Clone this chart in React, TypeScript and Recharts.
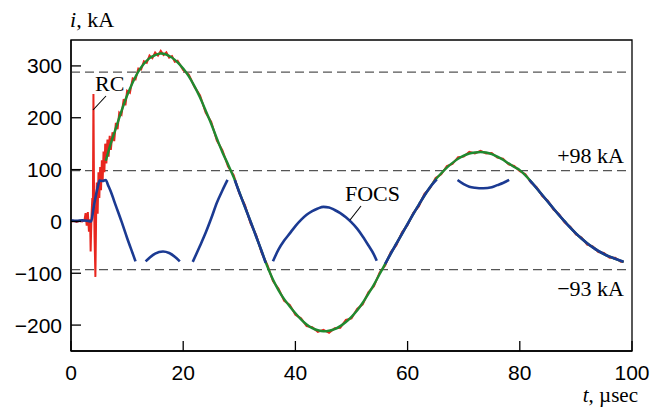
import { LineChart, Line, XAxis, YAxis, ReferenceLine, ReferenceArea } from 'recharts';

// smooth reconstructed current (green)
const greenTime = [
  6.2, 7, 8, 9, 10, 11, 12, 13, 14, 15, 16, 17, 18, 19, 20, 21, 22, 23, 24, 25, 26, 27, 28, 29, 30,
  31, 32, 33, 34, 35, 36, 37, 38, 39, 40, 41, 42, 43, 44, 45, 46, 47, 48, 49, 50, 51, 52, 53, 54, 55,
  56, 57, 58, 59, 60, 61, 62, 63, 64, 65, 66, 67, 68, 69, 70, 71, 72, 73, 74, 75, 76, 77, 78, 79, 80,
  81, 82, 83, 84, 85, 86, 87, 88, 89, 90, 91, 92, 93, 94, 95, 96, 97, 98, 98.5,
];
const greenCurrent = [
  117, 147, 180, 213, 243, 268, 289, 304, 315, 321, 324, 322, 316, 307, 295, 280, 261, 239, 214, 188, 160, 133, 110, 85, 57,
  28, 0, -29, -58, -87, -112, -133, -150, -164, -177, -189, -199, -206, -210, -212, -211, -208, -202, -194, -184, -172, -157, -140, -122, -102,
  -82, -62, -43, -24, -5, 14, 32, 50, 66, 81, 93, 104, 113, 121, 127, 131, 133, 134, 133, 130, 125, 119, 112, 105, 99,
  89, 77, 64, 51, 38, 25, 12, 0, -12, -23, -33, -42, -50, -57, -63, -68, -72, -76, -78,
];

// RC (Rogowski coil) record, noisy (red)
const redTime = [
  0, 0.5, 1, 1.5, 2, 2.4, 2.6, 2.8, 3.0, 3.2, 3.4, 3.5, 3.65, 3.8, 3.9, 4.0, 4.1, 4.2, 4.35, 4.5, 4.6, 4.75,
  4.9, 5.05, 5.2, 5.35, 5.5, 5.65, 5.8, 5.95, 6.1, 6.3, 6.5, 6.7, 6.9, 7.1, 7.4, 7.7, 8.0, 8.3, 8.6, 9.0,
  9.4, 9.7, 10, 10.5, 11, 11.5, 12, 12.5, 13, 13.5, 14, 14.5, 15, 15.5, 16, 16.5, 17, 17.5, 18, 18.5, 19,
  20, 21, 22, 23, 24, 25, 26, 27, 28, 29, 30, 31, 32, 33, 34, 35, 36, 37, 38, 39, 40, 41, 42, 43, 44, 45,
  46, 47, 48, 49, 50, 51, 52, 53, 54, 55, 56, 57, 58, 59, 60, 61, 62, 63, 64, 65, 66, 67, 68, 69, 70, 71,
  72, 73, 74, 75, 76, 77, 78, 79, 80, 81, 82, 83, 84, 85, 86, 87, 88, 89, 90, 91, 92, 93, 94, 95, 96, 97,
  98, 98.5,
];
const redCurrent = [
  0, 1, -1, 1, 0, 2, 16, -8, 18, -20, 4, -58, 10, 45, 25, 246, 60, -30, -107, 30, 75, 15,
  95, 45, 105, 60, 118, 80, 135, 95, 150, 112, 158, 125, 165, 138, 172, 155, 190, 178, 210, 206,
  236, 224, 252, 248, 276, 274, 295, 293, 309, 306, 320, 315, 326, 320, 329, 321, 326, 316, 319, 308, 310,
  292, 283, 260, 243, 210, 192, 156, 137, 106, 89, 54, 32, -4, -26, -61, -84, -115, -130, -153, -161, -180, -187, -202, -204, -213, -209,
  -215, -206, -205, -190, -187, -169, -160, -137, -125, -99, -85, -59, -46, -21, -7, 16, 29, 53, 64, 84, 91, 107, 111, 124, 125, 134,
  131, 136, 131, 132, 123, 121, 110, 107, 97, 91, 75, 66, 49, 40, 23, 14, -2, -10, -25, -31, -45, -48, -59, -61, -70, -70,
  -78, -78,
];

// FOCS record, folded outside its range (blue); null = gap
const blueTime = [
  0, 1, 2, 3, 3.6, 4.0, 4.4, 4.8, 5.1, 5.6, 6.2, 6.6, 7, 8, 9, 10, 11, 11.5, 12.4,
  13.3, 14, 15, 16.4, 17.5, 18.5, 19.4, 20.5,
  21.7, 23, 24, 25, 26, 27, 27.9, 28.5,
  29.2, 30, 31, 32, 33, 34, 34.7, 35.3,
  36, 37, 38, 39, 40, 41, 42, 43, 44, 45, 46, 47, 48, 49, 50, 51, 52, 53, 54, 54.5, 55.2,
  56, 57, 58, 59, 60, 61, 62, 63, 64, 65.2, 67,
  68.9, 70, 71, 72, 73.5, 75, 76, 77, 78.1, 80,
  81.7, 83, 84, 85, 86, 87, 88, 89, 90, 91, 92, 93, 94, 95, 96, 97, 98, 98.5,
];
const blueCurrent = [
  2, 1, 2, 1, 0, 25, 48, 68, 79, 78, 80, 70, 60, 30, 0, -32, -62, -77, null,
  -77, -70, -62, -58, -61, -68, -77, null,
  -78, -47, -22, 6, 36, 60, 80, null,
  80, 56, 28, 0, -29, -58, -80, null,
  -77, -54, -37, -23, -9, 3, 13, 20, 25, 28, 27, 22, 16, 8, -2, -14, -29, -46, -64, -76, null,
  -82, -62, -43, -24, -5, 14, 32, 50, 66, 81, null,
  80, 72, 67, 65, 64, 66, 70, 74, 80, null,
  80, 64, 51, 38, 25, 12, 0, -12, -23, -33, -42, -50, -57, -63, -68, -72, -76, -78,
];

const xTicks = [0, 20, 40, 60, 80, 100];
const yTicks = [-200, -100, 0, 100, 200, 300];
const limitLines = [288, 98, -93];

const toPoints = (ts: number[], vs: (number | null)[]) => ts.map((t, i) => ({ t, v: vs[i] }));

const greenData = toPoints(greenTime, greenCurrent);
const redData = toPoints(redTime, redCurrent);
const blueData = toPoints(blueTime, blueCurrent);

const sans = 'Liberation Sans, Arial, sans-serif';
const serif = 'Liberation Serif, Times New Roman, serif';

const fmt = (v: number) => String(v).replace('-', '\u2212');

const YTick = ({ x, y, payload }: any) => (
  <g>
    <line x1={x + 9} x2={x + 19} y1={y} y2={y} stroke="#000" strokeWidth={1.3} />
    <text x={x} y={y} dy="0.36em" textAnchor="end" fontSize={21} fontFamily={sans} fill="#000">
      {fmt(payload.value)}
    </text>
  </g>
);

const XTick = ({ x, y, payload }: any) => (
  <g>
    <line x1={x} x2={x} y1={y - 9} y2={y - 19} stroke="#000" strokeWidth={1.3} />
    <text x={x} y={y} dy="0.95em" textAnchor="middle" fontSize={21} fontFamily={sans} fill="#000">
      {payload.value}
    </text>
  </g>
);

export default function App() {
  return (
    <div style={{ position: 'absolute', left: 0, top: 0, width: 650, height: 410, background: '#fff' }}>
      <LineChart width={650} height={410} margin={{ top: 40, right: 18, bottom: 29, left: 11 }}>
        <XAxis
          dataKey="t"
          type="number"
          domain={[0, 100]}
          ticks={xTicks}
          tickSize={0}
          tickMargin={9}
          tickLine={false}
          tick={<XTick />}
          height={30}
          axisLine={{ stroke: '#000', strokeWidth: 1.3 }}
          allowDataOverflow
        />
        <YAxis
          type="number"
          domain={[-250, 350]}
          ticks={yTicks}
          tickSize={0}
          tickMargin={9}
          tickLine={false}
          tick={<YTick />}
          width={60}
          axisLine={{ stroke: '#000', strokeWidth: 1.3 }}
          allowDataOverflow
        />
        <ReferenceArea x1={0} x2={100} y1={-250} y2={350} fill="none" stroke="#000" strokeWidth={1.3} ifOverflow="visible" />
        {limitLines.map((v) => (
          <ReferenceLine key={v} y={v} stroke="#555" strokeWidth={1.3} strokeDasharray="9 5" />
        ))}
        <Line data={redData} dataKey="v" type="linear" stroke="#e8261e" strokeWidth={2} dot={false} isAnimationActive={false} />
        <Line data={greenData} dataKey="v" type="monotone" stroke="#1f8a30" strokeWidth={2.4} dot={false} isAnimationActive={false} />
        <Line data={blueData} dataKey="v" type="monotone" stroke="#1b3a92" strokeWidth={2.6} dot={false} isAnimationActive={false} />
      </LineChart>
      <svg width={650} height={410} style={{ position: 'absolute', left: 0, top: 0, pointerEvents: 'none' }}>
        <text x={70} y={27} fontSize={22} fontFamily={serif} fill="#000">
          <tspan fontStyle="italic">i</tspan>, kA
        </text>
        <text x={638} y={402} textAnchor="end" fontSize={21} fontFamily={serif} fill="#000">
          <tspan fontStyle="italic">t</tspan>, µsec
        </text>
        <text x={95} y={91} fontSize={22} fontFamily={serif} fill="#000">RC</text>
        <line x1={93} y1={110} x2={106} y2={96} stroke="#000" strokeWidth={1.1} />
        <text x={345} y={201} fontSize={22} fontFamily={serif} fill="#000">FOCS</text>
        <line x1={350} y1={220} x2={361} y2={206} stroke="#000" strokeWidth={1.1} />
        <text x={624} y={163} textAnchor="end" fontSize={22} fontFamily={serif} fill="#000">+98 kA</text>
        <text x={624} y={296} textAnchor="end" fontSize={22} fontFamily={serif} fill="#000">−93 kA</text>
      </svg>
    </div>
  );
}
